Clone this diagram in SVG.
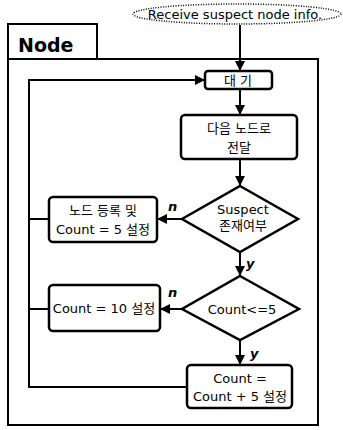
<svg xmlns="http://www.w3.org/2000/svg" width="343" height="430" viewBox="0 0 343 430">
<defs>
<style>
.box{fill:#fff;stroke:#000;stroke-width:2.5}
.frame{fill:none;stroke:#000;stroke-width:2}
.ln{fill:none;stroke:#000;stroke-width:2}
.t{font-family:"DejaVu Sans","Noto Sans CJK KR",sans-serif;font-size:13px;fill:#000;text-anchor:middle}
.lbl{font-family:"DejaVu Sans",sans-serif;font-size:13px;font-weight:bold;font-style:italic;fill:#000}
</style>
<marker id="ah" viewBox="0 0 10 10" refX="9" refY="5" markerWidth="5" markerHeight="5" orient="auto">
<path d="M0,0 L10,5 L0,10 z" fill="#000"/>
</marker>
</defs>
<rect width="343" height="430" fill="#fff"/>
<g id="frame">
<path class="frame" d="M8,59 V24 H97 V59"/>
<rect class="frame" x="8" y="59" width="310" height="366"/>
<text x="18" y="52" font-family="Verdana,'DejaVu Sans',sans-serif" font-size="19" font-weight="bold">Node</text>
</g>
<g id="connectors">
<line class="ln" x1="240" y1="25" x2="240" y2="70" marker-end="url(#ah)"/>
<line class="ln" x1="240" y1="89" x2="240" y2="114" marker-end="url(#ah)"/>
<line class="ln" x1="240" y1="159" x2="240" y2="185" marker-end="url(#ah)"/>
<line class="ln" x1="182" y1="219" x2="158" y2="219" marker-end="url(#ah)"/>
<line class="ln" x1="240" y1="252" x2="240" y2="275" marker-end="url(#ah)"/>
<line class="ln" x1="182" y1="309" x2="161" y2="309" marker-end="url(#ah)"/>
<line class="ln" x1="240" y1="340" x2="240" y2="364" marker-end="url(#ah)"/>
<path class="ln" d="M187,387 H29 V80 H204" marker-end="url(#ah)"/>
<line class="ln" x1="49" y1="219" x2="29" y2="219"/>
<line class="ln" x1="49" y1="309" x2="29" y2="309"/>
<text class="lbl" x="168" y="211">n</text>
<text class="lbl" x="246" y="268">y</text>
<text class="lbl" x="168" y="297">n</text>
<text class="lbl" x="250" y="358">y</text>
</g>
<g id="start">
<ellipse cx="237" cy="14" rx="104" ry="10" fill="none" stroke="#000" stroke-width="1.5" stroke-dasharray="1,1.5"/>
<text class="t" x="235" y="19" font-size="12">Receive suspect node info.</text>
</g>
<g id="wait">
<rect class="box" x="205" y="71" width="67" height="18" rx="3"/>
<text class="t" x="238" y="85">대 기</text>
</g>
<g id="forward">
<rect class="box" x="181" y="115" width="116" height="44" rx="4"/>
<text class="t" x="239" y="133">다음 노드로</text>
<text class="t" x="239" y="152">전달</text>
</g>
<g id="suspect">
<polygon class="box" points="240,186 298,219 240,252 182,219"/>
<text class="t" x="243" y="214">Suspect</text>
<text class="t" x="243" y="230">존재여부</text>
</g>
<g id="register">
<rect class="box" x="49" y="197" width="108" height="45" rx="4"/>
<text class="t" x="103" y="215">노드 등록 및</text>
<text class="t" x="103" y="234">Count = 5 설정</text>
</g>
<g id="countcheck">
<polygon class="box" points="240,276 299,309 240,340 182,309"/>
<text class="t" x="242" y="314">Count&lt;=5</text>
</g>
<g id="set10">
<rect class="box" x="49" y="285" width="111" height="46" rx="4"/>
<text class="t" x="104" y="313">Count = 10 설정</text>
</g>
<g id="add5">
<rect class="box" x="187" y="365" width="105" height="43" rx="4"/>
<text class="t" x="240" y="383">Count =</text>
<text class="t" x="240" y="401">Count + 5 설정</text>
</g>
</svg>
